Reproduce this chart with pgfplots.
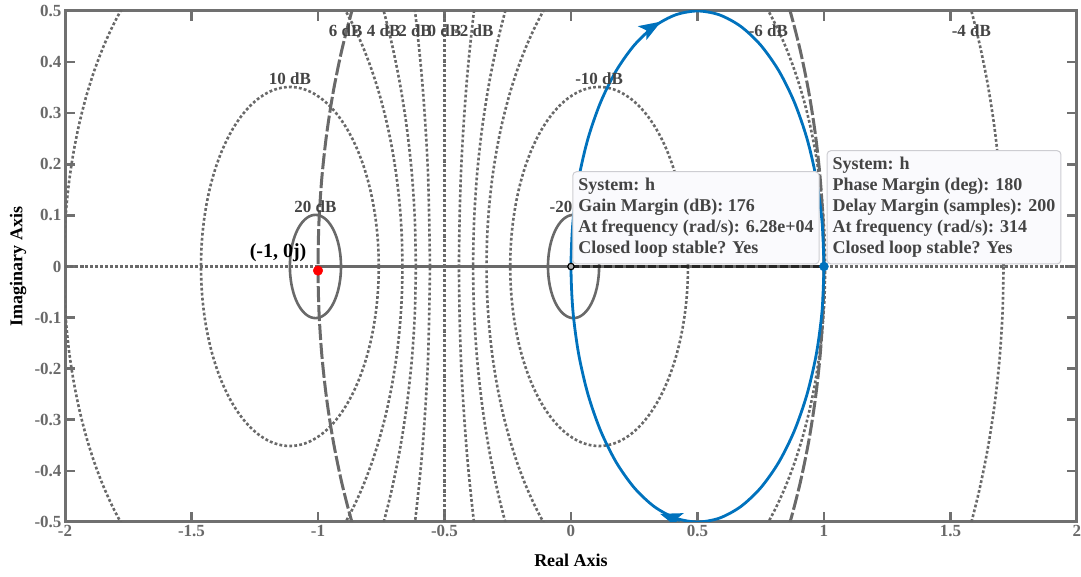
\documentclass[border=0pt]{standalone}
\usepackage{pgfplots}
\pgfplotsset{compat=1.18}
\usepackage{pgfplotstable}
\usepackage{fontspec}
\setmainfont{Liberation Serif}
\usetikzlibrary{arrows.meta}

\definecolor{mblue}{RGB}{0,114,189}
\definecolor{gridgray}{RGB}{105,105,105}
\definecolor{axgray}{RGB}{112,112,112}
\definecolor{tickgray}{RGB}{105,105,105}
\definecolor{labgray}{RGB}{68,68,68}
\definecolor{boxfill}{RGB}{250,250,253}
\definecolor{boxdraw}{RGB}{205,205,210}

\tikzset{
  lab/.style={font=\bfseries\fontsize{17}{17}\selectfont, text=labgray, inner sep=2pt},
  tipbox/.style={anchor=south west, align=left, fill=boxfill, draw=boxdraw, line width=1pt, rounded corners=4pt,
      inner xsep=5.5pt, inner ysep=6.5pt, font=\bfseries\fontsize{18}{21}\selectfont, text=labgray},
}
\pgfplotsset{
  griddot/.style={draw=gridgray, line width=2.6pt, dash pattern=on 2.8pt off 2.2pt, smooth},
  gridsolid/.style={draw=gridgray, line width=2.6pt, smooth},
}

% unit circle, 5 degree steps (used for the constant-magnitude grid circles)
\pgfplotstableread{
c s
1 0
0.99619 0.08716
0.98481 0.17365
0.96593 0.25882
0.93969 0.34202
0.90631 0.42262
0.86603 0.5
0.81915 0.57358
0.76604 0.64279
0.70711 0.70711
0.64279 0.76604
0.57358 0.81915
0.5 0.86603
0.42262 0.90631
0.34202 0.93969
0.25882 0.96593
0.17365 0.98481
0.08716 0.99619
0 1
-0.08716 0.99619
-0.17365 0.98481
-0.25882 0.96593
-0.34202 0.93969
-0.42262 0.90631
-0.5 0.86603
-0.57358 0.81915
-0.64279 0.76604
-0.70711 0.70711
-0.76604 0.64279
-0.81915 0.57358
-0.86603 0.5
-0.90631 0.42262
-0.93969 0.34202
-0.96593 0.25882
-0.98481 0.17365
-0.99619 0.08716
-1 0
-0.99619 -0.08716
-0.98481 -0.17365
-0.96593 -0.25882
-0.93969 -0.34202
-0.90631 -0.42262
-0.86603 -0.5
-0.81915 -0.57358
-0.76604 -0.64279
-0.70711 -0.70711
-0.64279 -0.76604
-0.57358 -0.81915
-0.5 -0.86603
-0.42262 -0.90631
-0.34202 -0.93969
-0.25882 -0.96593
-0.17365 -0.98481
-0.08716 -0.99619
0 -1
0.08716 -0.99619
0.17365 -0.98481
0.25882 -0.96593
0.34202 -0.93969
0.42262 -0.90631
0.5 -0.86603
0.57358 -0.81915
0.64279 -0.76604
0.70711 -0.70711
0.76604 -0.64279
0.81915 -0.57358
0.86603 -0.5
0.90631 -0.42262
0.93969 -0.34202
0.96593 -0.25882
0.98481 -0.17365
0.99619 -0.08716
1 0
}\unitc

\begin{document}
\begin{tikzpicture}
\useasboundingbox (-65pt,-54pt) rectangle (1016pt,522pt);
\begin{axis}[
  at={(0pt,0pt)}, anchor=south west,
  scale only axis, width=1012pt, height=511pt,
  xmin=-2, xmax=2, ymin=-0.5, ymax=0.5,
  xtick={-2,-1.5,-1,-0.5,0,0.5,1,1.5,2},
  ytick={-0.5,-0.4,-0.3,-0.2,-0.1,0,0.1,0.2,0.3,0.4,0.5},
  tick align=inside, major tick length=10pt,
  tick style={draw=axgray, line width=2.6pt},
  axis line style={draw=axgray, line width=3pt},
  /pgf/number format/assume math mode=true,
  ticklabel style={font=\bfseries\fontsize{17}{17}\selectfont, text=tickgray},
  xlabel={Real Axis}, ylabel={Imaginary Axis},
  label style={font=\bfseries\fontsize{18}{18}\selectfont, text=black},
  xlabel style={at={(axis description cs:0.5,-0.088)}, anchor=base},
  ylabel style={at={(axis description cs:-0.0464,0.5)}, anchor=center},
  clip mode=individual,
]
% constant-magnitude circles
\addplot[griddot] table[x expr={\thisrow{c}*0.35136-1.11111}, y expr={\thisrow{s}*0.35136}] {\unitc};
\addplot[griddot] table[x expr={\thisrow{c}*0.66932-1.33545}, y expr={\thisrow{s}*0.66932}] {\unitc};
\addplot[griddot] table[x expr={\thisrow{c}*1.04828-1.66142}, y expr={\thisrow{s}*1.04828}] {\unitc};
\addplot[griddot] table[x expr={\thisrow{c}*2.15233-2.70970}, y expr={\thisrow{s}*2.15233}] {\unitc};
\addplot[griddot] coordinates {(-0.5,-0.5) (-0.5,0.5)};
\addplot[griddot] table[x expr={\thisrow{c}*2.15242+1.70973}, y expr={\thisrow{s}*2.15242}] {\unitc};
\addplot[griddot] table[x expr={\thisrow{c}*1.04830+0.66143}, y expr={\thisrow{s}*1.04830}] {\unitc};
\addplot[griddot] table[x expr={\thisrow{c}*0.66931+0.33545}, y expr={\thisrow{s}*0.66931}] {\unitc};
\addplot[griddot] table[x expr={\thisrow{c}*0.35136+0.11111}, y expr={\thisrow{s}*0.35136}] {\unitc};
\addplot[gridsolid] table[x expr={\thisrow{c}*0.10101-1.01010}, y expr={\thisrow{s}*0.10101}] {\unitc};
\addplot[gridsolid] table[x expr={\thisrow{c}*0.10101+0.01010}, y expr={\thisrow{s}*0.10101}] {\unitc};
\addplot[griddot] coordinates {(-2,0) (2,0)};
% unit circle
\addplot[draw=gridgray, line width=3pt, dash pattern=on 16pt off 3pt, smooth] table[x=c, y=s] {\unitc};
% real-axis segment and margin line
\addplot[draw=gridgray, line width=3pt] coordinates {(-1,0) (1,0)};
\addplot[draw=black!85, line width=2.6pt, dash pattern=on 8pt off 3pt] coordinates {(0,0) (1,0)};

% Nyquist curve
\addplot[draw=mblue, line width=2.8pt, smooth] coordinates {
(1,0) (0.99240,0.08682) (0.96985,0.17101) (0.93301,0.25) (0.88302,0.32139)
(0.82139,0.38302) (0.75,0.43301) (0.67101,0.46985) (0.58682,0.49240) (0.5,0.5)
(0.41318,0.49240) (0.32899,0.46985) (0.25,0.43301) (0.17861,0.38302) (0.11698,0.32139)
(0.06699,0.25) (0.03015,0.17101) (0.00760,0.08682) (0,0)
(0.00760,-0.08682) (0.03015,-0.17101) (0.06699,-0.25) (0.11698,-0.32139) (0.17861,-0.38302)
(0.25,-0.43301) (0.32899,-0.46985) (0.41318,-0.49240) (0.5,-0.5) (0.58682,-0.49240)
(0.67101,-0.46985) (0.75,-0.43301) (0.82139,-0.38302) (0.88302,-0.32139) (0.93301,-0.25)
(0.96985,-0.17101) (0.99240,-0.08682) (1,0)};
\addplot[draw=mblue, fill=mblue, line width=2.8pt, -{Stealth[length=22pt,width=16pt,inset=5pt]}] coordinates {(0.2985,0.4619) (0.356,0.4792)};
\addplot[draw=mblue, fill=mblue, line width=2.8pt, -{Stealth[length=22pt,width=16pt,inset=5pt]}] coordinates {(0.43,-0.497) (0.352,-0.484)};

% markers
\addplot[only marks, mark=*, mark size=3.2pt, mark options={fill=gray!60, draw=black, line width=1.2pt}] coordinates {(0,0)};
\addplot[only marks, mark=*, mark size=4.5pt, mblue] coordinates {(1,0)};
\addplot[only marks, mark=*, mark size=4.8pt, red] coordinates {(-1,-0.008)};

% grid labels
\node[lab, anchor=south] at (axis cs:-1.0101,0.10101) {20 dB};
\node[lab, anchor=south] at (axis cs:-1.1111,0.35136) {10 dB};
\node[lab, anchor=south] at (axis cs:0.1111,0.35136) {-10 dB};
\node[lab, anchor=south] at (axis cs:0.0101,0.10101) {-20 dB};
\node[lab, anchor=base] at (axis cs:-0.8905,0.451) {6 dB};
\node[lab, anchor=base] at (axis cs:-0.7401,0.451) {4 dB};
\node[lab, anchor=base] at (axis cs:-0.6163,0.451) {2 dB};
\node[lab, anchor=base] at (axis cs:-0.5,0.451) {0 dB};
\node[lab, anchor=base] at (axis cs:-0.3838,0.451) {-2 dB};
\node[lab, anchor=base] at (axis cs:0.7804,0.451) {-6 dB};
\node[lab, anchor=base] at (axis cs:1.5828,0.451) {-4 dB};

\node[anchor=base east, inner sep=0pt, font=\bfseries\fontsize{20}{20}\selectfont, text=black] at (axis cs:-1.045,0.017) {(-1, 0j)};

% data tips
\node[tipbox] at (axis cs:0.005,0.004) {System: h\\Gain Margin (dB): 176\\At frequency (rad/s): 6.28e+04\\Closed loop stable? Yes};
\node[tipbox] at (axis cs:1.01,0.004) {System: h\\Phase Margin (deg): 180\\Delay Margin (samples): 200\\At frequency (rad/s): 314\\Closed loop stable? Yes};
\end{axis}
\end{tikzpicture}
\end{document}
